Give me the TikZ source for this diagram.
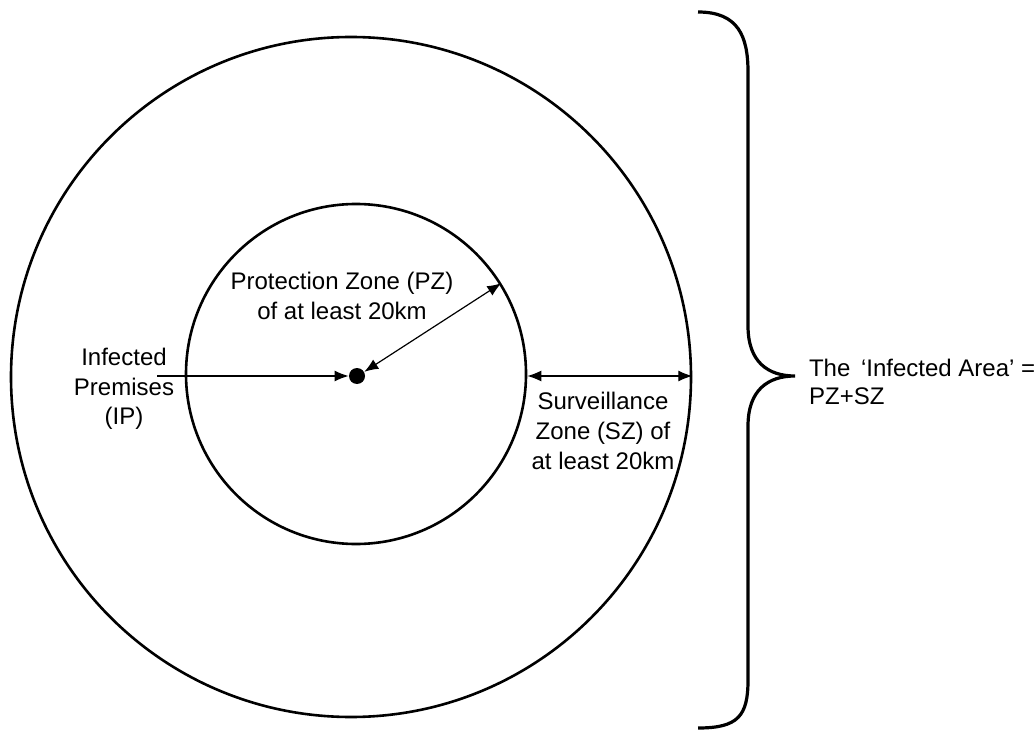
\documentclass[tikz,border=0pt]{standalone}
\usepackage{fontspec}
\setmainfont{Liberation Sans}
\usepackage{tikz}
\usetikzlibrary{arrows.meta}

\begin{document}
\begin{tikzpicture}[x=0.5pt, y=-0.5pt,
   zone/.style={circle, draw, line width=1.3pt, inner sep=0pt},
   lbl/.style={align=center, font=\fontsize{12}{14.8}\selectfont},
   dim/.style={line width=0.6pt, {Latex[length=7pt,width=5.5pt]}-{Latex[length=7pt,width=5.5pt]}},
   ptr/.style={line width=0.6pt, -{Latex[length=7pt,width=5.5pt]}}]
   \useasboundingbox (0,0) rectangle (1036,731);
   \node[zone, minimum size=340pt] (outer) at (351,377) {};
   \node[zone, minimum size=170pt] (inner) at (356,374) {};
   \node[circle, fill, inner sep=0pt, minimum size=8pt] (ipdot) at (357,376) {};
   \coordinate (ipstart) at (157,376);
   \draw[ptr] (ipstart) -- (ipdot.west);
   \draw[dim] (ipdot.30) -- (inner.32);
   \draw[dim] (inner.east |- ipdot) -- (outer.east |- ipdot);
   \node[lbl] (pzlabel) at (342,296) {Protection Zone (PZ)\\of at least 20km};
   \node[lbl] (iplabel) at (124,389) {Infected\\Premises\\(IP)};
   \node[lbl] (szlabel) at (603,431) {Surveillance\\Zone (SZ) of\\at least 20km};
   \node[lbl, align=left, anchor=west, font=\fontsize{12}{13.6}\selectfont] (arealabel) at (802,382) {The \,‘Infected Area’ =\\PZ+SZ};
   \draw[line width=1.6pt] (698,12) .. controls (738,12) and (748,36) .. (748,72)
      -- (748,326) .. controls (748,362) and (768,376) .. (795,376)
      .. controls (768,376) and (748,390) .. (748,426)
      -- (748,680) .. controls (748,716) and (738,728) .. (698,728);
\end{tikzpicture}
\end{document}
